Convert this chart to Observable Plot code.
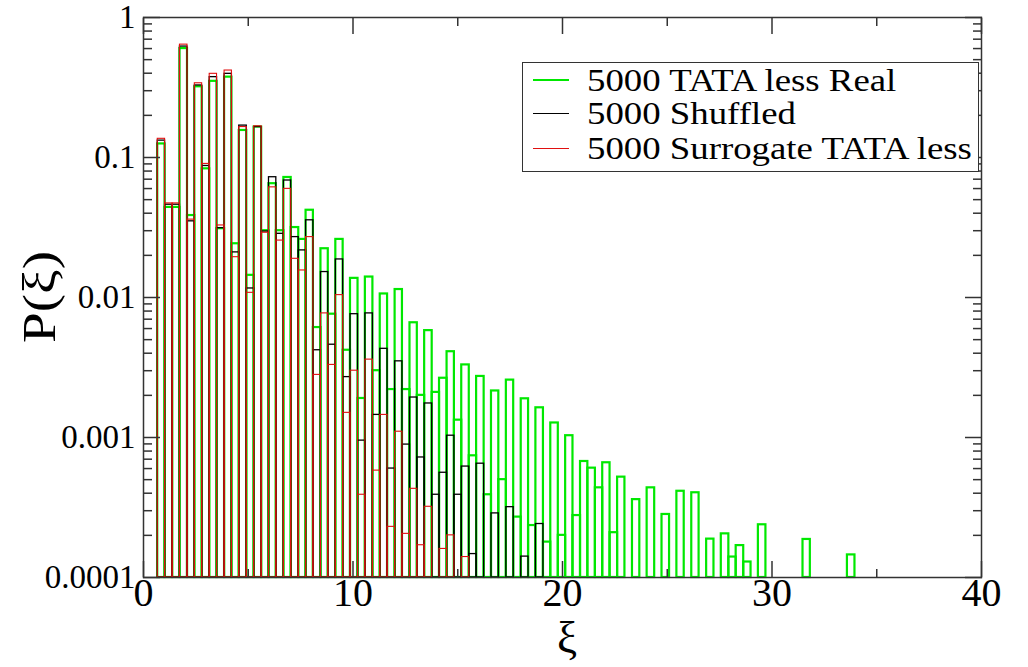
<!DOCTYPE html>
<html>
<head>
<meta charset="utf-8">
<script src="https://cdn.jsdelivr.net/npm/d3@7"></script>
<script src="https://cdn.jsdelivr.net/npm/@observablehq/plot@0.6"></script>
<style>
  body { margin: 0; background: #fff; font-family: "Liberation Serif", serif; }
  #wrap { position: relative; width: 1028px; height: 667px; font-family: "Liberation Serif", serif; color: #000; }
  #wrap svg { position: absolute; left: 0; top: 0; }
  .xtitle { position: absolute; left: 537px; top: 617px; width: 60px; text-align: center; font-size: 45px; line-height: 40px; font-family: "Liberation Serif", serif; }
  .ytitle { position: absolute; left: -20px; top: 267px; width: 120px; height: 60px; text-align: center; font-size: 46px; line-height: 60px; transform: rotate(-90deg) scaleX(1.2); transform-origin: 60px 30px; font-family: "Liberation Serif", serif; }
  #legend { position: absolute; left: 522px; top: 62px; width: 457px; height: 110px; border: 1.5px solid #333; box-sizing: border-box; background: #fff; }
  .row { position: absolute; left: 0; height: 34px; display: flex; align-items: center; white-space: nowrap; }
  .swatch { width: 36px; margin-left: 10px; margin-right: 18px; }
  .ltext { display: inline-block; font-family: "Liberation Serif", serif; font-size: 32px; transform: scaleX(1.15); transform-origin: left center; }
</style>
</head>
<body>
<div id="wrap"></div>
<script>
// Histogram bin edges (xi)
const binEdges = [0.68,1.03,1.39,1.74,2.10,2.45,2.80,3.16,3.51,3.87,4.22,4.57,4.93,5.28,5.64,5.99,6.34,6.70,7.05,7.41,
  7.76,8.11,8.47,8.82,9.18,9.53,9.88,10.24,10.59,10.95,11.30,11.65,12.01,12.36,12.72,13.07,13.42,13.78,14.13,14.49,
  14.84,15.19,15.55,15.90,16.26,16.61,16.96,17.32,17.67,18.03,18.38,18.73,19.09,19.44,19.80,20.15,20.50,20.86,21.21,21.57,
  21.92,22.27,22.63,22.98,23.34,23.69,24.04,24.40,24.75,25.11,25.46,25.81,26.17,26.52,26.88,27.23,27.58,27.94,28.29,28.65,
  29.00,29.35,29.71,30.06,30.42,30.77,31.12,31.48,31.83,32.19,32.54,32.89,33.25,33.60,33.96];

// P(xi) per bin
const realTATAless = [0.125,0.044,0.044,0.60,0.0385,0.32,0.083,0.35,0.031,0.375,
  0.0242,0.156,0.0144,0.165,0.030,0.065,0.030,0.072,0.0316,0.026,
  0.042,0.0061,0.0223,0.0076,0.026,0.0042,0.0137,0.0019,0.014,0.003,
  0.0106,0.0022,0.0114,0.0022,0.0066,0.002,0.0058,0.0021,0.00265,0.0041,
  0.00133,0.0033,0.00074,0.00273,0.00039,0.00215,0.0005,0.00257,0.00027,0.00189,
  0.000235,0.00163,0.000179,0.00127,0.0002,0.00103,0.000277,0.000674,0.000604,0.000437,
  0.00066,0.000209,0.000521,0,0.00036,0,0.000437,0,0.000282,0,
  0.000413,0,0.000403,0,0.000188,0,0.000205,0.00014,0.000169,0.000129,
  0,0.000238,0,0,0,0,0,0.000187,0,0,
  0,0,0,0.000145];

const shuffled = [0.132,0.046,0.046,0.62,0.035,0.327,0.087,0.375,0.0313,0.396,
  0.021,0.169,0.0116,0.165,0.0296,0.0723,0.0285,0.0685,0.027,0.0217,
  0.0356,0.0042,0.0152,0.0046,0.0187,0.0027,0.0076,0.00095,0.0077,0.00145,
  0.0043,0.0006,0.0035,0.00089,0.00193,0.00072,0.00175,0.00039,0.00056,0.00103,
  0.00039,0.00062,0.000147,0.00065,0,0.000287,0,0.000318,0,0.000141,
  0,0.000241];

const surrogateTATAless = [0.136,0.047,0.047,0.64,0.036,0.339,0.090,0.396,0.0327,0.418,
  0.0194,0.165,0.0108,0.167,0.029,0.0612,0.0255,0.0597,0.0189,0.0156,
  0.027,0.0028,0.0077,0.0033,0.0104,0.0015,0.003,0.00039,0.0036,0.00058,
  0.00145,0.00023,0.0011,0.000205,0.00043,0.00017,0.00032,0,0.00016,0.0002,
  0,0.00014];

const seriesNames = ["5000 TATA less Real", "5000 Shuffled", "5000 Surrogate TATA less"];
const seriesColors = ["#00e800", "#000000", "#e01010"];
const seriesWidths = [2.2, 1.3, 1.1];

const xTicks = [0, 10, 20, 30, 40];
const xMinorTicks = [5, 15, 25, 35];
const yTicks = [0.0001, 0.001, 0.01, 0.1, 1];
const yTickLabels = ["0.0001", "0.001", "0.01", "0.1", "1"];
const xTitle = "ξ";
const yTitle = "P(ξ)";

const yMinorTicks = yTicks.slice(0, -1).flatMap(d => [2,3,4,5,6,7,8,9].map(k => +(k * d).toPrecision(3)));
const yLabelMap = new Map(yTicks.map((d, i) => [d, yTickLabels[i]]));

function rowsOf(values, s) {
  return values.map((v, i) => ({x1: binEdges[i], x2: binEdges[i + 1], v, s})).filter(d => d.v > 0);
}
const allSeries = [realTATAless, shuffled, surrogateTATAless];

const frameColor = "#333";
const marks = [];
allSeries.forEach((vals, s) => {
  marks.push(Plot.rect(rowsOf(vals, s), {
    x1: "x1", x2: "x2", y1: yTicks[0], y2: "v",
    fill: "none", stroke: seriesColors[s], strokeWidth: seriesWidths[s]
  }));
});
// tick marks (inward) on all four sides
for (const anchor of ["left", "right"]) {
  marks.push(Plot.axisY(yTicks, {anchor, tickSize: -17, fill: "none", stroke: frameColor, strokeWidth: 1.5, label: null}));
  marks.push(Plot.axisY(yMinorTicks, {anchor, tickSize: -9, fill: "none", stroke: frameColor, strokeWidth: 1.5, label: null}));
}
for (const anchor of ["bottom", "top"]) {
  marks.push(Plot.axisX(xTicks, {anchor, tickSize: -16, fill: "none", stroke: frameColor, strokeWidth: 1.5, label: null}));
  marks.push(Plot.axisX(xMinorTicks, {anchor, tickSize: -8, fill: "none", stroke: frameColor, strokeWidth: 1.5, label: null}));
}
// tick labels
marks.push(Plot.axisY(yTicks, {anchor: "left", tickSize: 0, tickPadding: 8, fontSize: 33, tickFormat: d => yLabelMap.get(d), label: null, fill: "#000"}));
marks.push(Plot.axisX(xTicks, {anchor: "bottom", tickSize: 0, tickPadding: 0, fontSize: 40, tickFormat: d => String(d), label: null, fill: "#000"}));
marks.push(Plot.frame({stroke: frameColor, strokeWidth: 1.5}));

const chart = Plot.plot({
  width: 1028,
  height: 667,
  marginLeft: 143,
  marginRight: 47,
  marginTop: 17,
  marginBottom: 90,
  x: {domain: [0, 40]},
  y: {type: "log", domain: [0.0001, 1]},
  style: {fontFamily: "'Liberation Serif', serif", background: "#fff", color: "#000"},
  marks
});

const wrap = document.getElementById("wrap");
wrap.appendChild(chart);

const xt = document.createElement("div");
xt.className = "xtitle"; xt.textContent = xTitle; wrap.appendChild(xt);
const yt = document.createElement("div");
yt.className = "ytitle"; yt.textContent = yTitle; wrap.appendChild(yt);

const legend = document.createElement("div");
legend.id = "legend";
const rowTops = [0, 33, 68];
seriesNames.forEach((name, s) => {
  const row = document.createElement("div");
  row.className = "row";
  row.style.top = rowTops[s] + "px";
  const sw = document.createElement("div");
  sw.className = "swatch";
  sw.style.borderTop = `${s === 0 ? 2.5 : 1.5}px solid ${seriesColors[s]}`;
  const label = document.createElement("span");
  label.className = "ltext";
  label.textContent = name;
  row.appendChild(sw); row.appendChild(label);
  legend.appendChild(row);
});
wrap.appendChild(legend);
</script>
</body>
</html>
